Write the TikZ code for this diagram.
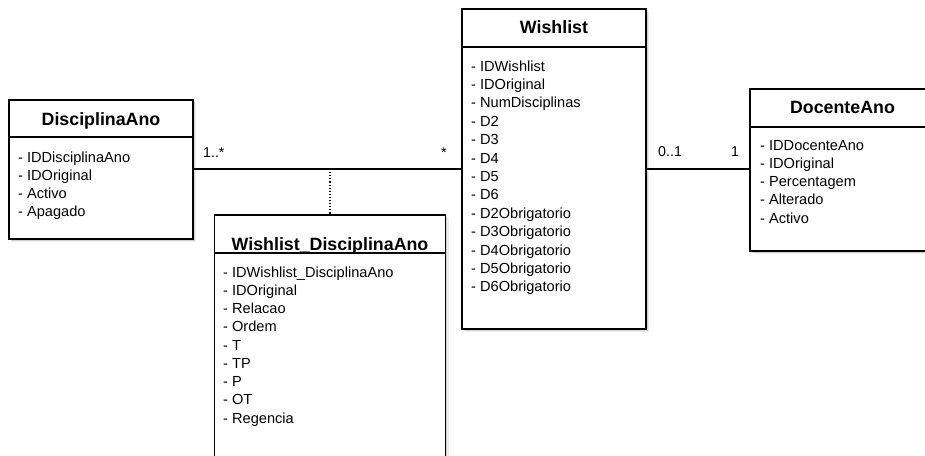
\documentclass[tikz,border=0pt]{standalone}
\usepackage{fontspec}
\setmainfont{Liberation Sans}
\usetikzlibrary{shadows}

\tikzset{
  classbox/.style={draw=black, line width=1.3pt, fill=white, inner sep=0pt, outer sep=0pt,
    anchor=north west,
    drop shadow={shadow xshift=3.2pt, shadow yshift=-3.2pt, fill=black!12},
    drop shadow={shadow xshift=1.8pt, shadow yshift=-1.8pt, fill=black!28}},
  divider/.style={line width=1.1pt},
  classtitle/.style={font=\fontsize{17.8}{20}\selectfont\bfseries, anchor=base, inner sep=0pt},
  attr/.style={font=\fontsize{14.6}{18}\selectfont, anchor=base west, inner sep=0pt},
  mult/.style={font=\fontsize{14.2}{16}\selectfont, anchor=base west, inner sep=0pt},
  assoc/.style={line width=1.1pt},
  assocclass/.style={line width=1.1pt, dotted},
}

\begin{document}
\begin{tikzpicture}[x=1pt, y=-1pt]
  \useasboundingbox (0,0) rectangle (925,455);
  \clip (0,0) rectangle (925,455);

  % ---------- DisciplinaAno ----------
  \node[classbox, minimum width=184pt, minimum height=139pt] (da) at (9,100) {};
  \draw[divider] (9,137) -- (193,137);
  \node[classtitle] (daT) at (101,125) {DisciplinaAno};
  \foreach \t [count=\i from 0] in {IDDisciplinaAno, IDOriginal, Activo, Apagado}
    \node[attr] (da-\i) at (18,162+18.3*\i) {- \t};

  % ---------- Wishlist ----------
  \node[classbox, minimum width=184pt, minimum height=320pt] (wl) at (462,9) {};
  \draw[divider] (462,47) -- (646,47);
  \node[classtitle] (wlT) at (554,33) {Wishlist};
  \foreach \t [count=\i from 0] in {IDWishlist, IDOriginal, NumDisciplinas, D2, D3, D4, D5, D6,
      D2Obrigatorio, D3Obrigatorio, D4Obrigatorio, D5Obrigatorio, D6Obrigatorio}
    \node[attr] (wl-\i) at (471,71+18.4*\i) {- \t};

  % ---------- DocenteAno ----------
  \node[classbox, minimum width=185pt, minimum height=162pt] (doc) at (750,89) {};
  \draw[divider] (750,127) -- (935,127);
  \node[classtitle] (docT) at (842.5,113) {DocenteAno};
  \foreach \t [count=\i from 0] in {IDDocenteAno, IDOriginal, Percentagem, Alterado, Activo}
    \node[attr] (doc-\i) at (760,150+18.3*\i) {- \t};

  % ---------- Wishlist_DisciplinaAno (association class) ----------
  \node[classbox, minimum width=231pt, minimum height=260pt] (wda) at (214.5,215) {};
  \node[classtitle] (wdaT) at (330,250.5) {Wishlist\_DisciplinaAno};
  \draw[divider] (214.5,253) -- (445.5,253);
  \foreach \t [count=\i from 0] in {IDWishlist\_DisciplinaAno, IDOriginal, Relacao, Ordem,
      T, TP, P, OT, Regencia}
    \node[attr] (wda-\i) at (223,277+18.25*\i) {- \t};

  % ---------- associations ----------
  \draw[assoc] (da.east |- 0,169) -- (wl.west |- 0,169);
  \draw[assoc] (wl.east |- 0,169) -- (doc.west |- 0,169);
  \coordinate (assocpt) at (wda.north |- 0,169);
  \draw[assocclass] (assocpt) -- (wda.north);

  \node[mult] (m1) at (203,157) {1..*};
  \node[mult] (m2) at (441,157) {*};
  \node[mult] (m3) at (658,156) {0..1};
  \node[mult] (m4) at (731,156) {1};
\end{tikzpicture}
\end{document}
